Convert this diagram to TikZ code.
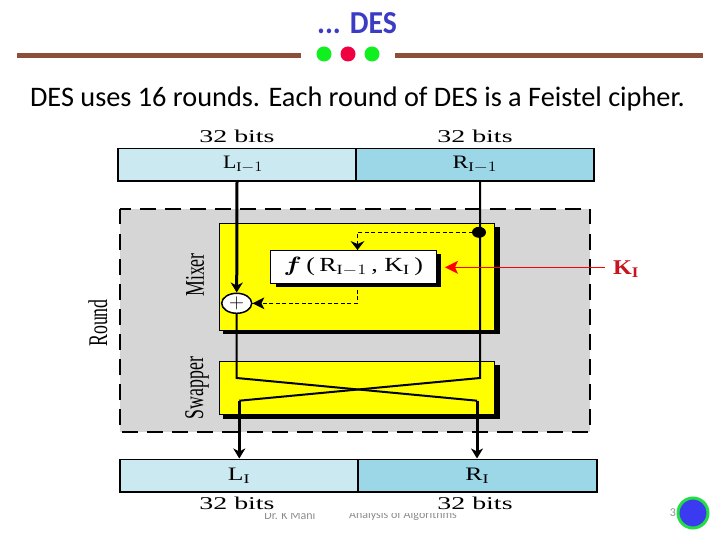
\documentclass[tikz,border=0pt]{standalone}
\usepackage{fontspec}
\setmainfont{Liberation Serif}
\newfontfamily\slidefont{Carlito}
\usepackage{amsmath}
\usepackage{xcolor}
\usetikzlibrary{arrows.meta}
\usetikzlibrary{shapes.geometric}
\definecolor{barlight}{HTML}{CBE9F1}
\definecolor{bardark}{HTML}{9BD7E6}
\definecolor{rulebrown}{HTML}{8C4F3A}
\definecolor{roundgray}{HTML}{D6D6D6}
\definecolor{titleblue}{HTML}{3B3BC4}
\definecolor{boxyellow}{HTML}{FFFF00}
\definecolor{dotgreen}{HTML}{10F020}
\definecolor{dotred}{HTML}{F00040}
\definecolor{keyred}{HTML}{C8141E}
\definecolor{linered}{HTML}{FF0000}
\definecolor{ringgreen}{HTML}{22DD44}
\definecolor{pageblue}{HTML}{3A3AF0}
\definecolor{footgray}{HTML}{8C8C8C}
\tikzset{
  barbox/.style={draw=black, line width=1.5pt, minimum height=32.5pt, inner sep=0pt, font=\fontsize{19}{19}\selectfont},
  yellowbox/.style={fill=boxyellow, draw=black, line width=0.8pt, inner sep=0pt},
  bitslabel/.style={font=\fontsize{18}{18}\selectfont, inner sep=0pt, xscale=1.55},
  sidelabel/.style={rotate=90, font=\fontsize{27}{27}\selectfont, inner sep=0pt, xscale=0.66},
  footlabel/.style={text=footgray, font=\slidefont\fontsize{12}{12}\selectfont},
  wire/.style={line width=2pt},
  thickwire/.style={line width=3pt},
  dashwire/.style={line width=1pt, dash pattern=on 4pt off 2.5pt},
  tipblack/.style={-{Stealth[length=10pt,width=12pt,inset=3pt]}},
  dots/.style={circle, inner sep=0pt, minimum width=15pt}
}
\begin{document}
\begin{tikzpicture}[x=1pt,y=-1pt]
\useasboundingbox (0,0) rectangle (720,540);

% footer
\node[footlabel] (footA) at (290,515) {Dr. K Mani};
\node[footlabel] (footB) at (403,515) {Analysis of Algorithms};
\node[footlabel] (pageno) at (673,513) {3};
\fill[white] (110,490) rectangle (600,513);
\node[circle, fill=pageblue, draw=ringgreen, line width=3pt, minimum size=30pt, inner sep=0pt] (pagedot) at (693,513) {};

% title
\node[text=titleblue, anchor=base, xscale=0.93, font=\slidefont\bfseries\fontsize{32}{32}\selectfont] (title) at (357,34) {... DES};
\fill[rulebrown] (17,53.5) rectangle (301,58.5);
\fill[rulebrown] (395,53.5) rectangle (703,58.5);
\node[dots, fill=dotgreen] (dotA) at (324,54) {};
\node[dots, fill=dotred] (dotB) at (348,54) {};
\node[dots, fill=dotgreen] (dotC) at (372,54) {};
\node[font=\slidefont\fontsize{28.3}{28.3}\selectfont] (subtitle) at (357.5,99) {DES uses 16 rounds. Each round of DES is a Feistel cipher.};

% round
\draw[fill=roundgray, line width=2pt, dash pattern=on 15.5pt off 9.5pt] (119.5,209) rectangle (590,431.5);
\node[sidelabel] (round) at (98,323) {Round};
\node[sidelabel] (mixer) at (195,275) {Mixer};
\node[sidelabel] (swapper) at (197,388) {Swapper};

% mixer and swapper
\fill[black] (223,227) rectangle (500,334);
\fill[black] (223,365) rectangle (500,419);
\draw[yellowbox] (219,223) rectangle (494.5,330);
\draw[yellowbox] (219,361) rectangle (494.5,414);

% top and bottom bars
\node[barbox, fill=barlight, minimum width=238.5pt] (lprev) at (237,164.7) {\hspace*{12pt}\scalebox{1.15}[1]{$\mathrm{L}_{\mathrm{I}-1}$}};
\node[barbox, fill=bardark, minimum width=238pt] (rprev) at (475,164.7) {\scalebox{1.25}[1]{$\mathrm{R}_{\mathrm{I}-1}$}};
\node[barbox, fill=barlight, minimum width=238pt] (lnext) at (239,475.8) {\scalebox{1.35}[1]{$\mathrm{L}_{\mathrm{I}}$}};
\node[barbox, fill=bardark, minimum width=239pt] (rnext) at (477.3,475.8) {\scalebox{1.35}[1]{$\mathrm{R}_{\mathrm{I}}$}};

\node[bitslabel] (bitsA) at (237,136) {32 bits};
\node[bitslabel] (bitsB) at (475,136) {32 bits};
\node[bitslabel] (bitsC) at (237,503) {32 bits};
\node[bitslabel] (bitsD) at (475,503) {32 bits};

% f box
\fill[black] (276,254) rectangle (441,287);
\node[draw=black, fill=white, line width=0.8pt, minimum width=166.5pt, minimum height=33pt, inner sep=0pt, font=\fontsize{20}{20}\selectfont] (fbox) at (353.3,266.5) {\scalebox{1.3}[1]{$\boldsymbol{f}$\,(\,R$_{\mathrm{I}-1}$\,, K$_{\mathrm{I}}$\,)}};

\node[ellipse, draw=black, fill=white, line width=1.5pt, minimum width=30pt, minimum height=20pt, inner sep=0pt, font=\fontsize{20}{20}\selectfont] (xorop) at (236.7,303.3) {$+$};

% wires
\coordinate (rstart) at (480,181);
\coordinate (lbend) at (236.7,378);
\coordinate (rbend) at (480,378);
\coordinate (lcross) at (239.3,400.7);
\coordinate (rcross) at (477,400.7);
\coordinate (lend) at (239.3,458.5);
\coordinate (rend) at (477,458.5);
\coordinate (tap) at (479,232.3);
\coordinate (ftop) at (357.5,232.3);
\coordinate (fbot) at (357.5,303.3);
\coordinate (kstart) at (605,267.3);
\coordinate (kend) at (445,267.3);

\draw[thickwire, tipblack] (lprev.south) -- (xorop.north);
\draw[wire] (xorop.south) -- (lbend) -- (rcross);
\draw[wire] (rstart) -- (rbend) -- (lcross);
\draw[thickwire, tipblack] (lcross) -- (lend);
\draw[thickwire, tipblack] (rcross) -- (rend);

% dashed lines
\fill[black] (tap) ellipse [x radius=7, y radius=5.5];
\draw[dashwire] (tap) -- (ftop) -- (ftop |- fbox.north);
\draw[dashwire] (ftop |- fbox.south) -- (fbot) -- (xorop.east);
\fill[black] (357.5,250) -- ++(-7,-9) -- ++(7,3) -- ++(7,-3) -- cycle;
\fill[black] (xorop.east) -- ++(12,-6) -- ++(-3,6) -- ++(3,6) -- cycle;

% key
\draw[linered, line width=1.2pt, -{Stealth[length=13pt,width=13pt,inset=3pt]}] (kstart) -- (kend);
\node[text=keyred, font=\bfseries\fontsize{21}{21}\selectfont, inner sep=0pt] (keylabel) at (626,269) {\scalebox{1.15}[1]{K$_{\mathbf{I}}$}};

\end{tikzpicture}
\end{document}
